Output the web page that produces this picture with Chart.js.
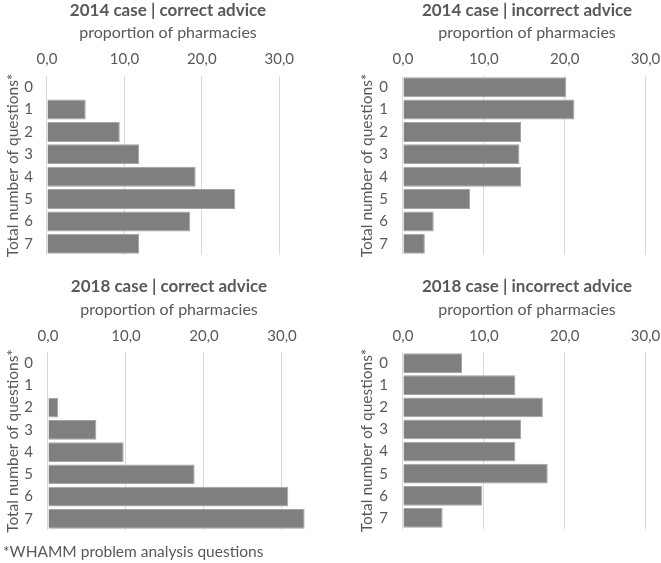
<!DOCTYPE html>
<html><head><meta charset="utf-8">
<script src="https://cdn.jsdelivr.net/npm/chart.js@4"></script>
<style>
html,body{margin:0;padding:0;background:#fff;overflow:hidden}
#wrap{position:relative;width:661px;height:563px;overflow:hidden;background:#fff}
canvas{position:absolute}
#note{position:absolute;left:3px;top:541px;font:15.5px Lato;line-height:20px;color:#595959;white-space:nowrap}
</style></head><body>
<div id="wrap">
<canvas id="c1"></canvas>
<canvas id="c2"></canvas>
<canvas id="c3"></canvas>
<canvas id="c4"></canvas>
<div id="note"></div>
</div>
<script>
// ---- data ----
const categories = ['0','1','2','3','4','5','6','7'];
const correct2014   = [0, 5.0, 9.4, 11.9, 19.2, 24.3, 18.5, 11.9];
const incorrect2014 = [20.2, 21.2, 14.6, 14.4, 14.6, 8.3, 3.8, 2.7];
const correct2018   = [0, 0, 1.3, 6.2, 9.7, 18.8, 30.8, 32.9];
const incorrect2018 = [7.3, 13.9, 17.3, 14.6, 13.9, 17.9, 9.8, 4.9];
const tickValues = [0, 10, 20, 30];
const tickLabels = ['0,0', '10,0', '20,0', '30,0'];
const axisMax = 35;
const panelTitles = ['2014 case | correct advice', '2014 case | incorrect advice',
                     '2018 case | correct advice', '2018 case | incorrect advice'];
const xAxisTitle = 'proportion of pharmacies';
const yAxisTitle = 'Total number of questions*';
const footnote = '*WHAMM problem analysis questions';

document.getElementById('note').textContent = footnote;

const TXT = '#595959';
const FONT = 'Lato';

function makePanel(id, values, title, L) {
  const cv = document.getElementById(id);
  cv.width = L.w; cv.height = L.h;
  cv.style.left = L.left + 'px'; cv.style.top = L.top + 'px';
  cv.style.width = L.w + 'px'; cv.style.height = L.h + 'px';
  return new Chart(cv, {
    type: 'bar',
    data: {
      labels: categories,
      datasets: [{
        data: values,
        backgroundColor: '#7f7f7f',
        borderColor: '#a3a3a3',
        borderWidth: 1,
        barPercentage: 0.89,
        categoryPercentage: 1
      }]
    },
    options: {
      indexAxis: 'y',
      responsive: false,
      animation: false,
      devicePixelRatio: 1,
      layout: { padding: { left: L.padL, right: 0, top: 0, bottom: L.padB } },
      plugins: {
        legend: { display: false },
        tooltip: { enabled: false },
        title: {
          display: true, text: title, color: TXT,
          font: { family: FONT, size: 17, weight: 'bold', lineHeight: '22px' },
          padding: { top: L.titleTop, bottom: 0 }
        },
        subtitle: {
          display: true, text: xAxisTitle, color: TXT,
          font: { family: FONT, size: 16, weight: 'normal', lineHeight: '20px' },
          padding: { top: L.subTop, bottom: 0 }
        }
      },
      scales: {
        x: {
          position: 'top', min: 0, max: axisMax,
          afterBuildTicks: (s) => { s.ticks = tickValues.map(v => ({ value: v })); },
          afterFit: (s) => { s.height = L.xH; s.paddingLeft = 0; s.paddingRight = 0; },
          ticks: {
            callback: (v) => tickLabels[tickValues.indexOf(v)],
            color: TXT, font: { family: FONT, size: 15 },
            padding: L.xTickPad, minRotation: 0, maxRotation: 0, autoSkip: false
          },
          grid: { color: '#d9d9d9', lineWidth: 1, drawTicks: false },
          border: { display: false }
        },
        y: {
          ticks: { color: TXT, font: { family: FONT, size: 15 }, padding: L.yTickPad,
                   minRotation: 0, maxRotation: 0, autoSkip: false },
          grid: { display: false, drawTicks: false },
          border: { display: false },
          title: {
            display: true, text: yAxisTitle, color: TXT,
            font: { family: FONT, size: 15.5, lineHeight: '18px' },
            padding: { top: L.yTitleTop, bottom: L.yTitleBottom }
          }
        }
      }
    }
  });
}

makePanel('c1', correct2014, panelTitles[0],
  { left: 0, top: 0, w: 318, h: 279, padL: 18, padB: 24, yTitleTop: -14, yTitleBottom: -11.7, yTickPad: 14,
    titleTop: 0, subTop: 1, xH: 33, xTickPad: 8 });
makePanel('c2', incorrect2014, panelTitles[1],
  { left: 330, top: 0, w: 356, h: 279, padL: 38, padB: 24, yTitleTop: -10.3, yTitleBottom: -11.4, yTickPad: 15,
    titleTop: 0, subTop: 1, xH: 33, xTickPad: 8 });
makePanel('c3', correct2018, panelTitles[2],
  { left: 0, top: 270, w: 321, h: 293, padL: 17, padB: 33, yTitleTop: -13.3, yTitleBottom: -12.4, yTickPad: 15,
    titleTop: 6, subTop: 2, xH: 32, xTickPad: 7 });
makePanel('c4', incorrect2018, panelTitles[3],
  { left: 330, top: 270, w: 356, h: 293, padL: 38, padB: 34, yTitleTop: -10.3, yTitleBottom: -11.4, yTickPad: 15,
    titleTop: 6, subTop: 2, xH: 32, xTickPad: 7 });
</script>
</body></html>
